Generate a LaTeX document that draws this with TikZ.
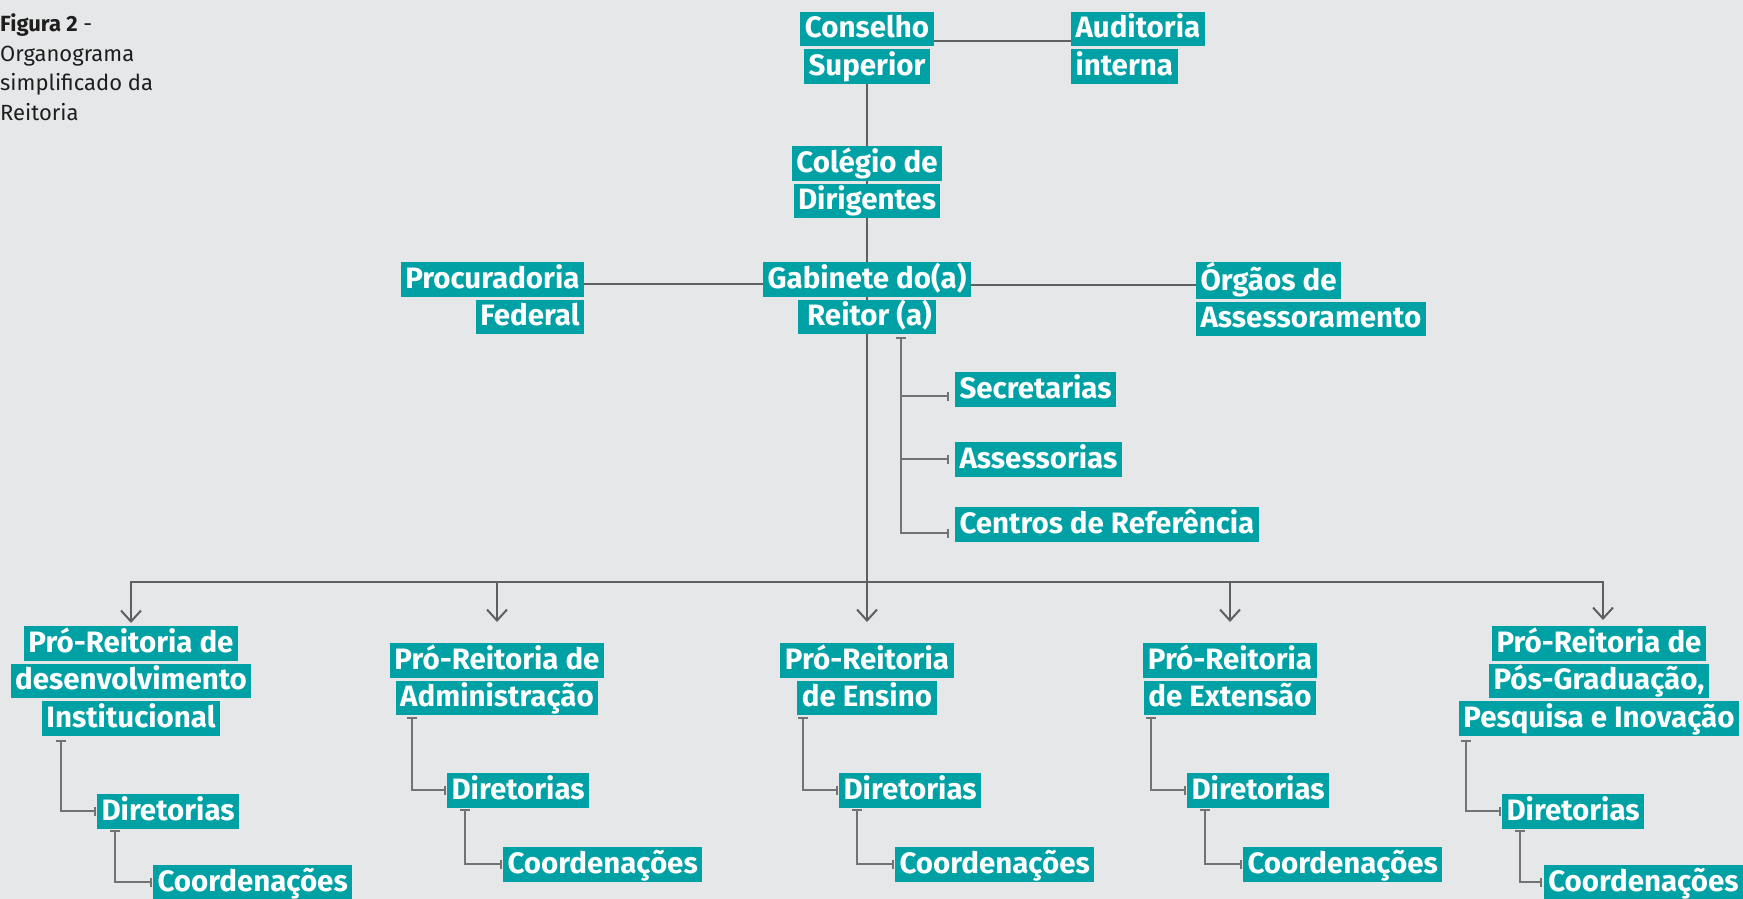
\documentclass[tikz,border=0pt]{standalone}
\usepackage{fontspec}
\setmainfont{Fira Sans}
\newfontfamily\boxfont{Fira Sans}
\usetikzlibrary{arrows.meta,backgrounds}
\definecolor{bg}{RGB}{230,231,232}
\definecolor{boxteal}{RGB}{0,161,165}
\definecolor{linegray}{RGB}{95,95,95}
\definecolor{brgray}{RGB}{115,115,115}
\definecolor{captext}{RGB}{30,30,30}
\newcommand\hl[1]{{\setlength{\fboxsep}{0pt}\colorbox{boxteal}{\rule[-8.5pt]{0pt}{34.5pt}\hspace{4.5pt}#1\hspace{4.5pt}}}}
\tikzset{
  orgbox/.style={inner sep=0pt, outer sep=0pt, text=white, align=center,
    font=\boxfont\bfseries\fontsize{29.5}{37.5}\selectfont},
  conn/.style={draw=linegray, line width=2pt},
  tbar/.style={draw=brgray, line width=2pt, {Bar[width=10pt]}-{Bar[width=9pt]}},
  down/.style={-{Straight Barb[length=11pt,width=20pt]}},
}
\begin{document}
\begin{tikzpicture}[x=1pt,y=-1pt]
\useasboundingbox (0,0) rectangle (1743,899);
\begin{pgfonlayer}{background}
\fill[bg] (0,0) rectangle (1743,899);
\end{pgfonlayer}
\node[anchor=north west, inner sep=0pt, align=left, text=captext,
  font=\fontsize{22}{29.7}\selectfont] (cap) at (0,13.5) {\textbf{Figura 2} -\\Organograma\\simplificado da\\Reitoria};
\node[orgbox, anchor=north] (cons) at (867,12) {\hl{Conselho}\\\hl{Superior}};
\node[orgbox, anchor=north west, align=left] (aud) at (1071,12) {\hl{Auditoria}\\\hl{interna}};
\node[orgbox, anchor=north] (col) at (867,146) {\hl{Colégio de}\\\hl{Dirigentes}};
\node[orgbox, anchor=north] (gab) at (867,262) {\hl{Gabinete do(a)}\\\hl{\hspace{5pt}Reitor (a)}};
\node[orgbox, anchor=north east, align=right] (proc) at (584,262) {\hl{Procuradoria}\\\hl{Federal}};
\node[orgbox, anchor=north west, align=left] (org) at (1196,262) {\hl{Órgãos de}\\\hl{Assessoramento}};
\node[orgbox, anchor=north west] (sec) at (955,372) {\hl{Secretarias}};
\node[orgbox, anchor=north west] (ase) at (955,442) {\hl{Assessorias}};
\node[orgbox, anchor=north west] (cen) at (955,507) {\hl{Centros de Referência}};
\node[orgbox, anchor=north] (pr1) at (131,626) {\hl{Pró-Reitoria de}\\\hl{desenvolvimento}\\\hl{Institucional}};
\node[orgbox, anchor=north] (pr2) at (497,643) {\hl{Pró-Reitoria de}\\\hl{Administração}};
\node[orgbox, anchor=north] (pr3) at (867,643) {\hl{Pró-Reitoria}\\\hl{de Ensino}};
\node[orgbox, anchor=north] (pr4) at (1230,643) {\hl{Pró-Reitoria}\\\hl{de Extensão}};
\node[orgbox, anchor=north] (pr5) at (1599,626) {\hl{Pró-Reitoria de}\\\hl{Pós-Graduação,}\\\hl{Pesquisa e Inovação}};
\node[orgbox, anchor=north west] (d1) at (97,794) {\hl{Diretorias}};
\node[orgbox, anchor=north west] (d2) at (447,773) {\hl{Diretorias}};
\node[orgbox, anchor=north west] (d3) at (839,773) {\hl{Diretorias}};
\node[orgbox, anchor=north west] (d4) at (1187,773) {\hl{Diretorias}};
\node[orgbox, anchor=north west] (d5) at (1502,794) {\hl{Diretorias}};
\node[orgbox, anchor=north west] (c1) at (153,865) {\hl{Coordenações}};
\node[orgbox, anchor=north west] (c2) at (503,847) {\hl{Coordenações}};
\node[orgbox, anchor=north west] (c3) at (895,847) {\hl{Coordenações}};
\node[orgbox, anchor=north west] (c4) at (1243,847) {\hl{Coordenações}};
\node[orgbox, anchor=north east] (c5) at (1743,865) {\hl{Coordenações}};
\coordinate (busc) at (867,582);
\begin{pgfonlayer}{background}
\draw[conn] ([yshift=-29pt]cons.north east) -- ([yshift=-29pt]aud.north west);
\draw[conn] (cons.south) -- (busc);
\draw[conn] ([yshift=-22pt]proc.north east) -- ([yshift=-22pt]gab.north west);
\draw[conn] ([yshift=-23pt]gab.north east) -- ([yshift=-23pt]org.north west);
\draw[conn, {Straight Barb[length=11pt,width=20pt]}-{Straight Barb[length=11pt,width=20pt]}]
  ([yshift=3pt]pr1.north) |- (busc) -| ([yshift=6pt,xshift=4pt]pr5.north);
\draw[conn, down] (busc -| pr2.north) -- ([yshift=21pt]pr2.north);
\draw[conn, down] (busc) -- ([yshift=21pt]pr3.north);
\draw[conn, down] (busc -| pr4.north) -- ([yshift=21pt]pr4.north);
\draw[tbar] ([xshift=34pt,yshift=-3pt]gab.south) |- ([xshift=-6.5pt,yshift=-7pt]sec.west);
\draw[tbar] ([xshift=34pt,yshift=-3pt]gab.south) |- ([xshift=-6.5pt]ase.west);
\draw[tbar] ([xshift=34pt,yshift=-3pt]gab.south) |- ([xshift=-6.5pt,yshift=-9pt]cen.west);
\draw[tbar] ([xshift=-70pt,yshift=-4pt]pr1.south) |- ([xshift=-1.5pt]d1.west);
\draw[tbar] ([xshift=-85pt,yshift=-2pt]pr2.south) |- ([xshift=-1.5pt]d2.west);
\draw[tbar] ([xshift=-64pt,yshift=-2pt]pr3.south) |- ([xshift=-1.5pt]d3.west);
\draw[tbar] ([xshift=-79pt,yshift=-2pt]pr4.south) |- ([xshift=-1.5pt]d4.west);
\draw[tbar] ([xshift=-133pt,yshift=-4pt]pr5.south) |- ([xshift=-1.5pt]d5.west);
\draw[tbar] ([xshift=18pt,yshift=-1.5pt]d1.south west) |- ([xshift=-1.5pt]c1.west);
\draw[tbar] ([xshift=18pt,yshift=-1.5pt]d2.south west) |- ([xshift=-1.5pt]c2.west);
\draw[tbar] ([xshift=18pt,yshift=-1.5pt]d3.south west) |- ([xshift=-1.5pt]c3.west);
\draw[tbar] ([xshift=18pt,yshift=-1.5pt]d4.south west) |- ([xshift=-1.5pt]c4.west);
\draw[tbar] ([xshift=18pt,yshift=-1.5pt]d5.south west) |- ([xshift=-1.5pt]c5.west);
\end{pgfonlayer}
\end{tikzpicture}
\end{document}
